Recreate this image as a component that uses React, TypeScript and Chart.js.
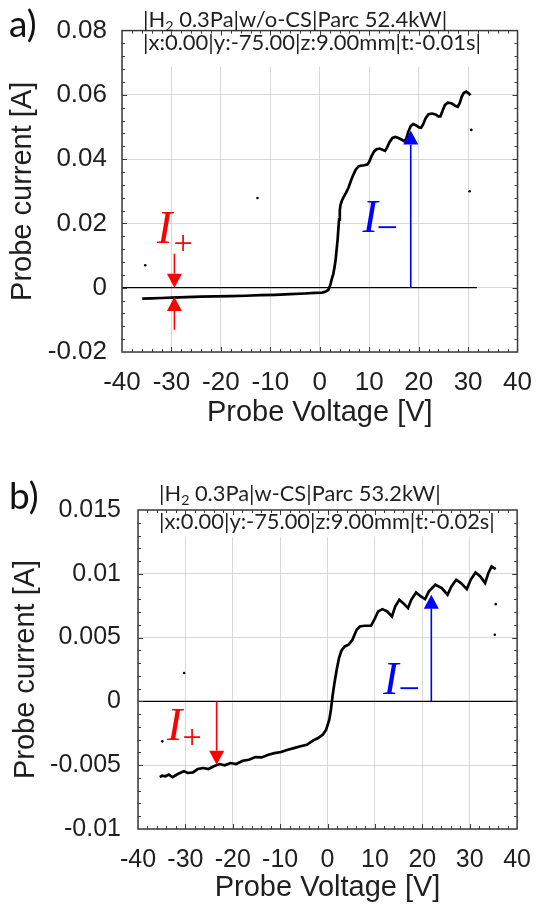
import React, { useEffect, useRef } from 'react';
import { Chart, registerables } from 'chart.js';

Chart.register(...registerables);

// ---------------- data ----------------
const xTickValues = [-40, -30, -20, -10, 0, 10, 20, 30, 40];
const xTickLabels = ['-40', '-30', '-20', '-10', '0', '10', '20', '30', '40'];

const topYTickValues = [-0.02, 0, 0.02, 0.04, 0.06, 0.08];
const topYTickLabels = ['-0.02', '0', '0.02', '0.04', '0.06', '0.08'];
const botYTickValues = [-0.01, -0.005, 0, 0.005, 0.01, 0.015];
const botYTickLabels = ['-0.01', '-0.005', '0', '0.005', '0.01', '0.015'];

// panel a) probe characteristic
const topVoltage = [
  -35.9, -34.0, -32.0, -30.0, -27.0, -24.0, -21.0, -18.0, -15.0, -12.0, -9.0, -6.0, -3.0, -1.0,
  0.5, 1.2, 1.7, 2.1, 2.4, 2.75, 3.0, 3.2, 3.4, 3.6, 3.75, 3.9, 4.05, 4.2, 4.5, 4.8, 5.3, 5.8,
  6.3, 6.8, 7.3, 7.8, 8.4, 9.0, 9.6, 10.0, 10.5, 11.0, 11.5, 12.1, 12.7, 13.2, 13.6, 14.1, 14.7,
  15.3, 15.9, 16.5, 17.1, 17.5, 17.9, 18.4, 18.9, 19.5, 20.1, 20.5, 20.9, 21.4, 22.0, 22.7, 23.4,
  24.0, 24.4, 24.8, 25.3, 25.9, 26.6, 27.3, 27.9, 28.3, 28.7, 29.1, 29.6, 30.1, 30.5,
];
const topCurrent = [
  -0.0034, -0.0033, -0.0032, -0.0031, -0.0029, -0.0028, -0.0027, -0.0026, -0.0025, -0.0023,
  -0.0022, -0.002, -0.0018, -0.0016, -0.0015, -0.0012, -0.0007, 0.0007, 0.0025, 0.0044, 0.0065,
  0.0086, 0.0117, 0.0148, 0.018, 0.0212, 0.024, 0.0258, 0.0272, 0.0281, 0.0295, 0.0311, 0.0333,
  0.0352, 0.0368, 0.0377, 0.038, 0.0381, 0.0383, 0.0392, 0.041, 0.0424, 0.0431, 0.0433, 0.0429,
  0.0426, 0.0436, 0.0453, 0.0466, 0.0469, 0.0466, 0.0461, 0.0456, 0.0464, 0.0485, 0.0503, 0.0509,
  0.0505, 0.0499, 0.0498, 0.0508, 0.0527, 0.054, 0.0542, 0.0539, 0.0533, 0.0533, 0.0549, 0.0568,
  0.0576, 0.0574, 0.0567, 0.0563, 0.0574, 0.0594, 0.0606, 0.061, 0.0605, 0.0599,
];
const topStrayVoltage = [-35.3, -12.6, 30.65, 30.3];
const topStrayCurrent = [0.007, 0.0279, 0.0491, 0.03];
const topZeroLineVoltage = [-40, 31.8];

// panel b) probe characteristic
const botVoltage = [
  -35.4, -34.9, -34.2, -33.5, -32.7, -31.5, -30.3, -29.5, -28.4, -27.4, -26.2, -25.1, -24.0,
  -22.8, -21.7, -20.5, -19.3, -17.9, -16.6, -15.2, -13.9, -12.5, -11.2, -9.8, -8.4, -7.1, -5.7,
  -4.4, -3.0, -2.0, -1.0, -0.3, 0.37, 0.71, 1.05, 1.46, 1.93, 2.41, 2.95, 3.63, 4.44, 5.25, 6.14,
  6.81, 7.83, 9.19, 9.86, 10.68, 11.56, 12.58, 13.6, 14.27, 15.15, 15.97, 16.98, 17.66, 18.68,
  19.69, 20.58, 21.39, 22.75, 24.1, 25.32, 26.14, 27.15, 28.17, 29.39, 30.2, 31.22, 32.24, 33.25,
  33.93, 34.61, 35.49,
];
const botCurrent = [
  -0.00593, -0.00582, -0.00587, -0.00574, -0.00593, -0.00567, -0.00548, -0.00561, -0.00556,
  -0.0053, -0.00522, -0.0053, -0.00509, -0.00491, -0.00501, -0.00483, -0.00491, -0.00465,
  -0.00457, -0.00436, -0.00439, -0.00418, -0.00405, -0.00397, -0.00379, -0.00366, -0.00352,
  -0.0034, -0.00305, -0.00287, -0.00261, -0.00222, -0.00144, -0.00065, 0.00039, 0.00144, 0.00248,
  0.00339, 0.004, 0.00431, 0.00444, 0.00483, 0.00561, 0.00587, 0.00593, 0.00593, 0.0064, 0.00705,
  0.00723, 0.00705, 0.00666, 0.00744, 0.00796, 0.0077, 0.00731, 0.00796, 0.00854, 0.00822,
  0.00802, 0.00862, 0.00914, 0.00888, 0.00836, 0.00901, 0.00953, 0.00927, 0.0088, 0.00953, 0.0101,
  0.00979, 0.00927, 0.01005, 0.01057, 0.01037,
];
const botStrayVoltage = [-30.27, -34.88, 35.49, 35.29];
const botStrayCurrent = [0.00222, -0.00313, 0.00762, 0.00522];
const botZeroLineVoltage = [-40, 40];

// annotation arrows [voltage, from current, to current (tip)]
const topIonArrowDown = [-29.4, 0.0106, 0.0];
const topIonArrowUp = [-29.4, -0.0131, -0.0029];
const topElecArrow = [18.4, 0.0, 0.0489];
const botIonArrow = [-23.4, 0.0, -0.00496];
const botElecArrow = [21.9, 0.0, 0.00836];

// ---------------- styling ----------------
const W = 547;
const PANEL_H = 454;
const SANS = '"Liberation Sans", Arial, sans-serif';
const HEAD = 'Lato, "Noto Sans", sans-serif';
const SERIF = '"Liberation Serif", "Times New Roman", serif';
const TEXT = '#1f1f1f';
const RED = '#ff0000';
const BLUE = '#0000ff';

const zip = (a: number[], b: number[]) => a.map((v, i) => ({ x: v, y: b[i] }));

interface LabelSpec { text: string; v: number; i: number; color: string; size: number; italic: boolean; align: CanvasTextAlign; }
interface PanelSpec {
  offset: number;
  letter: string; letterBaseline: number;
  head1: string[]; head2: string; head2Width: number; head1Dy: number; head2Dy: number;
  headerBlank: number;
  yMin: number; yMax: number; yTicks: number[]; yLabels: string[]; yMinor: number;
  tickSize: number; yAxisWidth: number; yTickPad: number; yTitlePad: number;
  xAxisHeight: number; xTickPad: number;
  padTop: number; padRight: number; padBottom: number;
  curveV: number[]; curveI: number[]; strayV: number[]; strayI: number[]; zeroV: number[];
  arrows: { a: number[]; color: string }[];
  labels: LabelSpec[];
}

const topSpec: PanelSpec = {
  offset: 0,
  letter: 'a)', letterBaseline: 37,
  head1: ['|H', '2', ' 0.3Pa|w/o-CS|Parc 52.4kW|'],
  head2: '|x:0.00|y:-75.00|z:9.00mm|t:-0.01s|', head2Width: 338, head1Dy: -4, head2Dy: 19,
  headerBlank: 36,
  yMin: -0.02, yMax: 0.08, yTicks: topYTickValues, yLabels: topYTickLabels, yMinor: 0.004,
  tickSize: 26, yAxisWidth: 122, yTickPad: 15, yTitlePad: 5.6,
  xAxisHeight: 78, xTickPad: 15,
  padTop: 30, padRight: 17, padBottom: 24,
  curveV: topVoltage, curveI: topCurrent, strayV: topStrayVoltage, strayI: topStrayCurrent,
  zeroV: topZeroLineVoltage,
  arrows: [
    { a: topIonArrowDown, color: RED },
    { a: topIonArrowUp, color: RED },
    { a: topElecArrow, color: BLUE },
  ],
  labels: [
    { text: 'I', v: -32.9, i: 0.0139, color: RED, size: 46, italic: true, align: 'left' },
    { text: '+', v: -27.65, i: 0.0106, color: RED, size: 34, italic: false, align: 'center' },
    { text: 'I', v: 8.63, i: 0.0173, color: BLUE, size: 46, italic: true, align: 'left' },
    { text: '\u2212', v: 13.63, i: 0.0148, color: BLUE, size: 38, italic: false, align: 'center' },
  ],
};

const botSpec: PanelSpec = {
  offset: 454,
  letter: 'b)', letterBaseline: 509 - 454,
  head1: ['|H', '2', ' 0.3Pa|w-CS|Parc 53.2kW|'],
  head2: '|x:0.00|y:-75.00|z:9.00mm|t:-0.02s|', head2Width: 336, head1Dy: -9, head2Dy: 19,
  headerBlank: 27,
  yMin: -0.01, yMax: 0.015, yTicks: botYTickValues, yLabels: botYTickLabels, yMinor: 0.001,
  tickSize: 25, yAxisWidth: 138, yTickPad: 17, yTitlePad: 8.6,
  xAxisHeight: 76.4, xTickPad: 16,
  padTop: 56, padRight: 15, padBottom: 2.6,
  curveV: botVoltage, curveI: botCurrent, strayV: botStrayVoltage, strayI: botStrayCurrent,
  zeroV: botZeroLineVoltage,
  arrows: [
    { a: botIonArrow, color: RED },
    { a: botElecArrow, color: BLUE },
  ],
  labels: [
    { text: 'I', v: -33.9, i: -0.003, color: RED, size: 46, italic: true, align: 'left' },
    { text: '+', v: -28.6, i: -0.00367, color: RED, size: 34, italic: false, align: 'center' },
    { text: 'I', v: 11.78, i: 0.0006, color: BLUE, size: 46, italic: true, align: 'left' },
    { text: '\u2212', v: 17.26, i: 0.00005, color: BLUE, size: 38, italic: false, align: 'center' },
  ],
};

function makeDeco(spec: PanelSpec) {
  return {
    id: 'panelDeco',
    beforeDatasetsDraw(chart: any) {
      const { ctx, chartArea: a } = chart;
      ctx.save();
      ctx.fillStyle = '#ffffff';
      ctx.fillRect(a.left + 1, a.top, a.right - a.left - 2, spec.headerBlank);
      ctx.restore();
    },
    afterDatasetsDraw(chart: any) {
      const { ctx, chartArea: a, scales } = chart;
      const xs = scales.x;
      const ys = scales.y;
      ctx.save();

      // arrows
      for (const ar of spec.arrows) {
        const x = xs.getPixelForValue(ar.a[0]);
        const y0 = ys.getPixelForValue(ar.a[1]);
        const y1 = ys.getPixelForValue(ar.a[2]);
        const dir = y1 > y0 ? 1 : -1;
        const hl = 14;
        const hw = 7.5;
        ctx.strokeStyle = ar.color;
        ctx.fillStyle = ar.color;
        ctx.lineWidth = 1.6;
        ctx.beginPath();
        ctx.moveTo(x, y0);
        ctx.lineTo(x, y1 - dir * hl);
        ctx.stroke();
        ctx.beginPath();
        ctx.moveTo(x, y1);
        ctx.lineTo(x - hw, y1 - dir * hl);
        ctx.lineTo(x + hw, y1 - dir * hl);
        ctx.closePath();
        ctx.fill();
      }

      // I+ / I- labels
      for (const lb of spec.labels) {
        ctx.font = `${lb.italic ? 'italic ' : ''}${lb.size}px ${SERIF}`;
        ctx.fillStyle = lb.color;
        ctx.textAlign = lb.align;
        ctx.textBaseline = 'alphabetic';
        ctx.fillText(lb.text, xs.getPixelForValue(lb.v), ys.getPixelForValue(lb.i));
      }

      // frame
      ctx.strokeStyle = '#3a3a3a';
      ctx.lineWidth = 1.5;
      ctx.strokeRect(a.left, a.top, a.right - a.left, a.bottom - a.top);

      // inward minor / major ticks
      ctx.lineWidth = 1;
      const nx = Math.round((40 - -40) / 2);
      for (let k = 1; k < nx; k++) {
        const v = -40 + k * 2;
        const major = v % 10 === 0;
        const L = major ? 5 : 3;
        const px = Math.round(xs.getPixelForValue(v)) + 0.5;
        ctx.beginPath();
        ctx.moveTo(px, a.bottom);
        ctx.lineTo(px, a.bottom - L);
        ctx.moveTo(px, a.top);
        ctx.lineTo(px, a.top + L);
        ctx.stroke();
      }
      const ny = Math.round((spec.yMax - spec.yMin) / spec.yMinor);
      const majorStep = spec.yTicks[1] - spec.yTicks[0];
      for (let k = 1; k < ny; k++) {
        const v = spec.yMin + k * spec.yMinor;
        const r = Math.abs((v - spec.yMin) / majorStep - Math.round((v - spec.yMin) / majorStep));
        const L = r < 1e-6 ? 5 : 3;
        const py = Math.round(ys.getPixelForValue(v)) + 0.5;
        ctx.beginPath();
        ctx.moveTo(a.left, py);
        ctx.lineTo(a.left + L, py);
        ctx.moveTo(a.right, py);
        ctx.lineTo(a.right - L, py);
        ctx.stroke();
      }

      // header text
      ctx.fillStyle = TEXT;
      ctx.textAlign = 'left';
      ctx.textBaseline = 'alphabetic';
      ctx.font = `22px ${HEAD}`;
      const measured = ctx.measureText(spec.head2).width;
      const fs = 22 * spec.head2Width / measured;
      const hx = a.left + 21;
      ctx.font = `${fs}px ${HEAD}`;
      ctx.fillText(spec.head2, hx, a.top + spec.head2Dy);
      const y1 = a.top + spec.head1Dy;
      let cx = hx;
      ctx.fillText(spec.head1[0], cx, y1);
      cx += ctx.measureText(spec.head1[0]).width;
      ctx.font = `${fs * 0.65}px ${HEAD}`;
      ctx.fillText(spec.head1[1], cx, y1 + 4);
      cx += ctx.measureText(spec.head1[1]).width;
      ctx.font = `${fs}px ${HEAD}`;
      ctx.fillText(spec.head1[2], cx, y1);

      // panel letter
      ctx.font = `37px ${HEAD}`;
      ctx.fillStyle = '#111';
      ctx.fillText(spec.letter, 9, spec.letterBaseline);

      ctx.restore();
    },
  };
}

function buildConfig(spec: PanelSpec): any {
  return {
    type: 'scatter',
    data: {
      datasets: [
        {
          data: zip(spec.curveV, spec.curveI),
          showLine: true,
          borderColor: '#000',
          borderWidth: 2.7,
          pointRadius: 0,
          tension: 0,
        },
        {
          data: zip(spec.strayV, spec.strayI),
          showLine: false,
          pointRadius: 1.3,
          pointBackgroundColor: '#000',
          pointBorderWidth: 0,
        },
        {
          data: zip(spec.zeroV, spec.zeroV.map(() => 0)),
          showLine: true,
          borderColor: '#000',
          borderWidth: 1.2,
          pointRadius: 0,
        },
      ],
    },
    options: {
      responsive: false,
      animation: false,
      events: [],
      layout: {
        autoPadding: false,
        padding: { left: 0, right: spec.padRight, top: spec.padTop, bottom: spec.padBottom },
      },
      plugins: {
        legend: { display: false },
        tooltip: { enabled: false },
        title: { display: false },
      },
      scales: {
        x: {
          type: 'linear',
          min: -40,
          max: 40,
          afterBuildTicks: (s: any) => {
            s.ticks = xTickValues.map((v) => ({ value: v }));
          },
          afterFit: (s: any) => {
            s.height = spec.xAxisHeight;
          },
          ticks: {
            autoSkip: false,
            maxRotation: 0,
            minRotation: 0,
            padding: spec.xTickPad,
            color: TEXT,
            font: { family: SANS, size: spec.tickSize },
            callback: (v: number) => xTickLabels[xTickValues.indexOf(v)] ?? '',
          },
          grid: { color: '#d8d8d8', lineWidth: 1, drawTicks: false },
          border: { display: false },
          title: {
            display: true,
            text: 'Probe Voltage [V]',
            color: TEXT,
            font: { family: SANS, size: 29 },
            padding: { top: 0, bottom: 0 },
          },
        },
        y: {
          type: 'linear',
          min: spec.yMin,
          max: spec.yMax,
          afterBuildTicks: (s: any) => {
            s.ticks = spec.yTicks.map((v) => ({ value: v }));
          },
          afterFit: (s: any) => {
            s.width = spec.yAxisWidth;
          },
          ticks: {
            autoSkip: false,
            padding: spec.yTickPad,
            color: TEXT,
            font: { family: SANS, size: spec.tickSize },
            callback: (v: number) => spec.yLabels[spec.yTicks.indexOf(v)] ?? '',
          },
          grid: { color: '#d8d8d8', lineWidth: 1, drawTicks: false },
          border: { display: false },
          title: {
            display: true,
            text: 'Probe current [A]',
            color: TEXT,
            font: { family: SANS, size: 29 },
            padding: { top: spec.yTitlePad, bottom: 0 },
          },
        },
      },
    },
    plugins: [makeDeco(spec)],
  };
}

function Panel({ spec }: { spec: PanelSpec }) {
  const ref = useRef<HTMLCanvasElement | null>(null);
  useEffect(() => {
    if (!ref.current) return;
    const chart = new Chart(ref.current, buildConfig(spec));
    return () => chart.destroy();
  }, [spec]);
  return (
    <canvas
      ref={ref}
      width={W}
      height={PANEL_H}
      style={{ position: 'absolute', left: 0, top: spec.offset, width: W, height: PANEL_H, display: 'block' }}
    />
  );
}

export default function App() {
  return (
    <div style={{ position: 'absolute', left: 0, top: 0, width: W, height: 908, background: '#ffffff', overflow: 'hidden' }}>
      <Panel spec={topSpec} />
      <Panel spec={botSpec} />
    </div>
  );
}
